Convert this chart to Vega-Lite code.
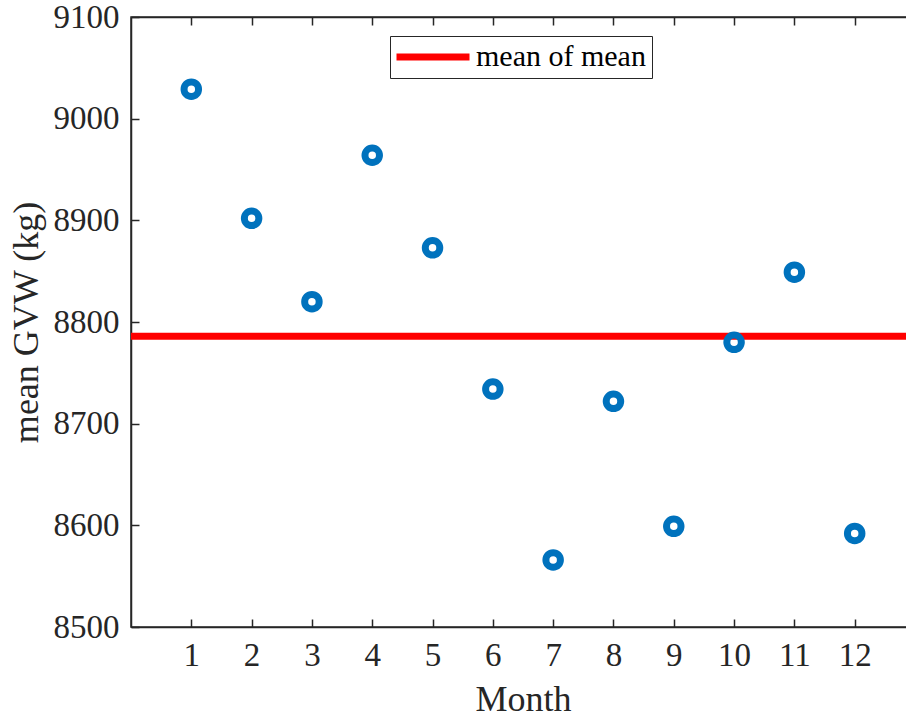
{
  "$schema": "https://vega.github.io/schema/vega-lite/v6.json",
  "width": 784,
  "height": 610,
  "autosize": {"type": "none"},
  "padding": {"left": 131, "top": 17, "right": 0, "bottom": 93},
  "background": "white",
  "config": {
    "view": {"stroke": "#262626", "strokeWidth": 1.5},
    "font": "Liberation Serif",
    "axis": {
      "grid": false,
      "domainColor": "#262626",
      "domainWidth": 1.5,
      "tickColor": "#262626",
      "tickWidth": 1.5,
      "tickSize": -8,
      "labelColor": "#262626",
      "labelFont": "Liberation Serif",
      "labelFontSize": 33,
      "titleFont": "Liberation Serif",
      "titleFontSize": 36,
      "titleFontWeight": "normal",
      "titleColor": "#262626"
    }
  },
  "datasets": {
    "months": [
      {"month": 1, "gvw": 9029},
      {"month": 2, "gvw": 8902},
      {"month": 3, "gvw": 8820},
      {"month": 4, "gvw": 8964},
      {"month": 5, "gvw": 8873},
      {"month": 6, "gvw": 8734},
      {"month": 7, "gvw": 8566},
      {"month": 8, "gvw": 8722},
      {"month": 9, "gvw": 8599},
      {"month": 10, "gvw": 8780},
      {"month": 11, "gvw": 8849},
      {"month": 12, "gvw": 8592}
    ],
    "meanline": [
      {"label": "mean of mean", "gvw": 8786}
    ]
  },
  "layer": [
    {
      "data": {"name": "meanline"},
      "mark": {"type": "rule", "strokeWidth": 7},
      "encoding": {
        "y": {
          "field": "gvw",
          "type": "quantitative",
          "scale": {"domain": [8500, 9100], "nice": false, "zero": false},
          "axis": {
            "values": [8500, 8600, 8700, 8800, 8900, 9000, 9100],
            "format": "d",
            "title": "mean GVW (kg)",
            "labelPadding": 20,
            "titlePadding": 8
          }
        },
        "color": {
          "field": "label",
          "type": "nominal",
          "scale": {"domain": ["mean of mean"], "range": ["#FF0000"]},
          "legend": {
            "title": null,
            "orient": "none",
            "legendX": 259,
            "legendY": 19,
            "symbolType": "M-3.65,0H3.65",
            "symbolSize": 400,
            "symbolOffset": 22,
            "symbolStrokeWidth": 7,
            "labelFont": "Liberation Serif",
            "labelFontSize": 30,
            "labelColor": "#000000",
            "labelOffset": 28,
            "labelLimit": 400,
            "padding": 6,
            "strokeColor": "#262626",
            "fillColor": "white"
          }
        }
      }
    },
    {
      "data": {"name": "months"},
      "mark": {"type": "point", "shape": "circle", "filled": false, "size": 210, "strokeWidth": 7, "color": "#0072BD", "opacity": 1},
      "encoding": {
        "x": {
          "field": "month",
          "type": "quantitative",
          "scale": {"domain": [0, 13], "nice": false, "zero": false},
          "axis": {
            "values": [1, 2, 3, 4, 5, 6, 7, 8, 9, 10, 11, 12],
            "title": "Month",
            "labelPadding": 20,
            "titlePadding": 10
          }
        },
        "y": {"field": "gvw", "type": "quantitative"}
      }
    },
    {
      "data": {"name": "months"},
      "mark": {"type": "point", "opacity": 0},
      "encoding": {
        "x": {
          "field": "month",
          "type": "quantitative",
          "axis": {
            "orient": "top",
            "values": [1, 2, 3, 4, 5, 6, 7, 8, 9, 10, 11, 12],
            "labels": false,
            "title": null
          }
        },
        "y": {"field": "gvw", "type": "quantitative"}
      }
    }
  ],
  "resolve": {"axis": {"x": "independent"}}
}
